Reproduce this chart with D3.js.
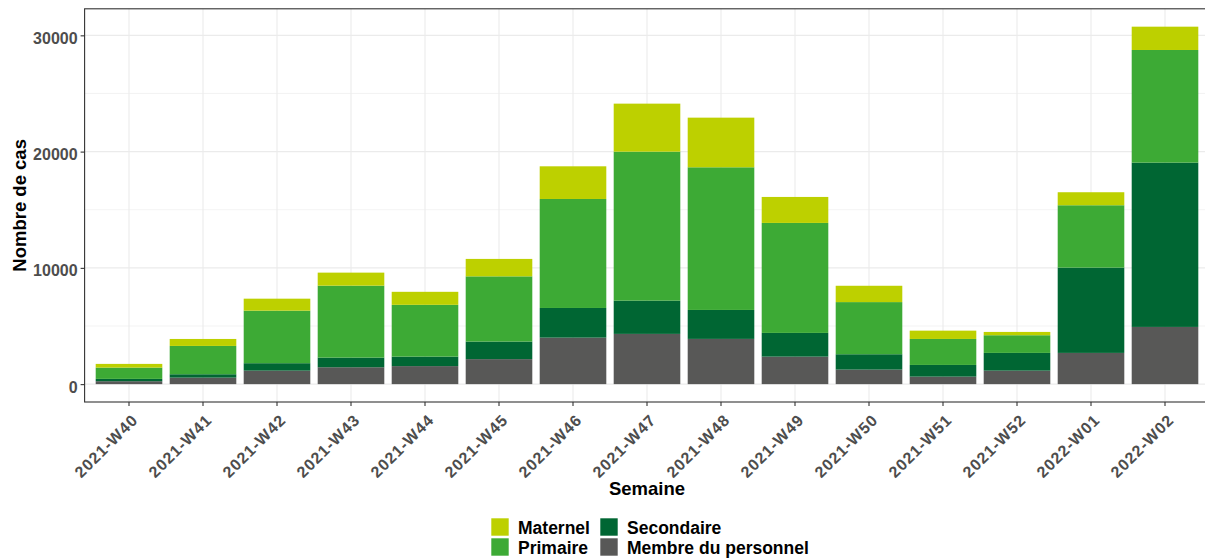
<!DOCTYPE html>
<html>
<head>
<meta charset="utf-8">
<script src="https://cdn.jsdelivr.net/npm/d3@7"></script>
<style>
  html, body { margin: 0; padding: 0; background: #fff; }
  svg { display: block; font-family: "Liberation Sans", Arial, sans-serif; }
</style>
</head>
<body>
<svg id="chart" width="1205" height="558"></svg>
<script>
// ---- data ----
const weeks = ["2021-W40","2021-W41","2021-W42","2021-W43","2021-W44","2021-W45","2021-W46",
               "2021-W47","2021-W48","2021-W49","2021-W50","2021-W51","2021-W52","2022-W01","2022-W02"];
const personnel  = [250, 560, 1160, 1450, 1550, 2150, 4000, 4320, 3890, 2365, 1250, 645, 1160, 2685, 4920];
const secondaire = [200, 290,  640,  830,  815, 1510, 2550, 2860, 2490, 2040, 1320, 1005, 1525, 7335, 14130];
const primaire   = [970, 2435, 4520, 6190, 4455, 5610, 9375, 12815, 12270, 9460, 4485, 2235, 1520, 5365, 9690];
const maternel   = [320, 600, 1030, 1120, 1120, 1500, 2810, 4130, 4270, 2235, 1405, 715, 285, 1120, 2005];
const seriesKeys   = ["personnel", "secondaire", "primaire", "maternel"];
const seriesLabels = ["Membre du personnel", "Secondaire", "Primaire", "Maternel"];
const seriesColors = ["#585857", "#006633", "#3DAA35", "#BDD000"];
const yMajorTicks = [0, 10000, 20000, 30000];
const yMinorTicks = [5000, 15000, 25000];
const xTitle = "Semaine";
const yTitle = "Nombre de cas";

// ---- build table ----
const table = weeks.map((w, i) => ({
  week: w, personnel: personnel[i], secondaire: secondaire[i], primaire: primaire[i], maternel: maternel[i]
}));
const stacked = d3.stack().keys(seriesKeys)(table);
const maxTotal = d3.max(table, d => seriesKeys.reduce((s, k) => s + d[k], 0));

const svg = d3.select("#chart");
const panel = { left: 84.6, right: 1209.4, top: 8.8, bottom: 402 };

const x = d3.scaleBand().domain(weeks).range([panel.left, panel.right])
  .paddingInner(0.1).paddingOuter(0.15);
const y = d3.scaleLinear().domain([-0.05 * maxTotal, 1.05 * maxTotal]).range([panel.bottom, panel.top]);
const color = d3.scaleOrdinal().domain(seriesKeys).range(seriesColors);

// grid
const g = svg.append("g");
g.selectAll("line.minor").data(yMinorTicks).join("line")
  .attr("x1", panel.left).attr("x2", panel.right)
  .attr("y1", d => y(d)).attr("y2", d => y(d))
  .attr("stroke", "#EBEBEB").attr("stroke-width", 0.6);
g.selectAll("line.major").data(yMajorTicks).join("line")
  .attr("x1", panel.left).attr("x2", panel.right)
  .attr("y1", d => y(d)).attr("y2", d => y(d))
  .attr("stroke", "#EBEBEB").attr("stroke-width", 1.1);
g.selectAll("line.vx").data(weeks).join("line")
  .attr("x1", d => x(d) + x.bandwidth() / 2).attr("x2", d => x(d) + x.bandwidth() / 2)
  .attr("y1", panel.top).attr("y2", panel.bottom)
  .attr("stroke", "#EBEBEB").attr("stroke-width", 1.1);

// bars
svg.append("g").selectAll("g").data(stacked).join("g")
  .attr("fill", d => color(d.key))
  .selectAll("rect").data(d => d).join("rect")
  .attr("x", d => x(d.data.week))
  .attr("width", x.bandwidth())
  .attr("y", d => y(d[1]))
  .attr("height", d => y(d[0]) - y(d[1]));

// panel border
svg.append("rect")
  .attr("x", panel.left).attr("y", panel.top)
  .attr("width", panel.right - panel.left).attr("height", panel.bottom - panel.top)
  .attr("fill", "none").attr("stroke", "#333333").attr("stroke-width", 1.1);

// y axis
const yAxis = svg.append("g").attr("transform", `translate(${panel.left},0)`)
  .call(d3.axisLeft(y).tickValues(yMajorTicks).tickSize(4).tickPadding(3).tickFormat(d3.format("d")));
yAxis.select(".domain").remove();
yAxis.selectAll(".tick line").attr("stroke", "#333333").attr("stroke-width", 1.1);
yAxis.selectAll(".tick text")
  .attr("fill", "#4D4D4D").attr("font-size", "16px").attr("font-weight", "bold")
  .attr("font-family", "Liberation Sans, Arial, sans-serif")
  .attr("dy", "0.5em");

// x axis
const xAxis = svg.append("g").attr("transform", `translate(0,${panel.bottom})`)
  .call(d3.axisBottom(x).tickSize(4).tickPadding(0));
xAxis.select(".domain").remove();
xAxis.selectAll(".tick line").attr("stroke", "#333333").attr("stroke-width", 1.1);
xAxis.selectAll(".tick text")
  .attr("fill", "#4D4D4D").attr("font-size", "16px").attr("font-weight", "bold")
  .attr("font-family", "Liberation Sans, Arial, sans-serif")
  .attr("letter-spacing", "1px")
  .attr("text-anchor", "end")
  .attr("dy", null).attr("y", null)
  .attr("transform", "translate(10,19) rotate(-45)");

// axis titles
svg.append("text")
  .attr("x", (panel.left + panel.right) / 2).attr("y", 495)
  .attr("text-anchor", "middle").attr("font-size", "18.5px").attr("font-weight", "bold")
  .attr("fill", "#000").text(xTitle);
svg.append("text")
  .attr("transform", `translate(25.5,${(panel.top + panel.bottom) / 2}) rotate(-90)`)
  .attr("text-anchor", "middle").attr("font-size", "18.5px").attr("font-weight", "bold")
  .attr("fill", "#000").text(yTitle);

// legend: 2 columns, 2 rows (Maternel, Primaire | Secondaire, Membre du personnel)
const legendOrder = ["maternel", "primaire", "secondaire", "personnel"];
const colX = [491, 600];
const rowY = [518, 538];
const leg = svg.append("g");
legendOrder.forEach((k, i) => {
  const col = Math.floor(i / 2), row = i % 2;
  const idx = seriesKeys.indexOf(k);
  leg.append("rect")
    .attr("x", colX[col]).attr("y", rowY[row]).attr("width", 18).attr("height", 18)
    .attr("fill", color(k)).attr("stroke", "#fff").attr("stroke-width", 0.6);
  leg.append("text")
    .attr("x", colX[col] + 27).attr("y", rowY[row] + 15.5)
    .attr("font-size", "17.5px").attr("font-weight", "bold").attr("fill", "#000")
    .text(seriesLabels[idx]);
});
</script>
</body>
</html>
